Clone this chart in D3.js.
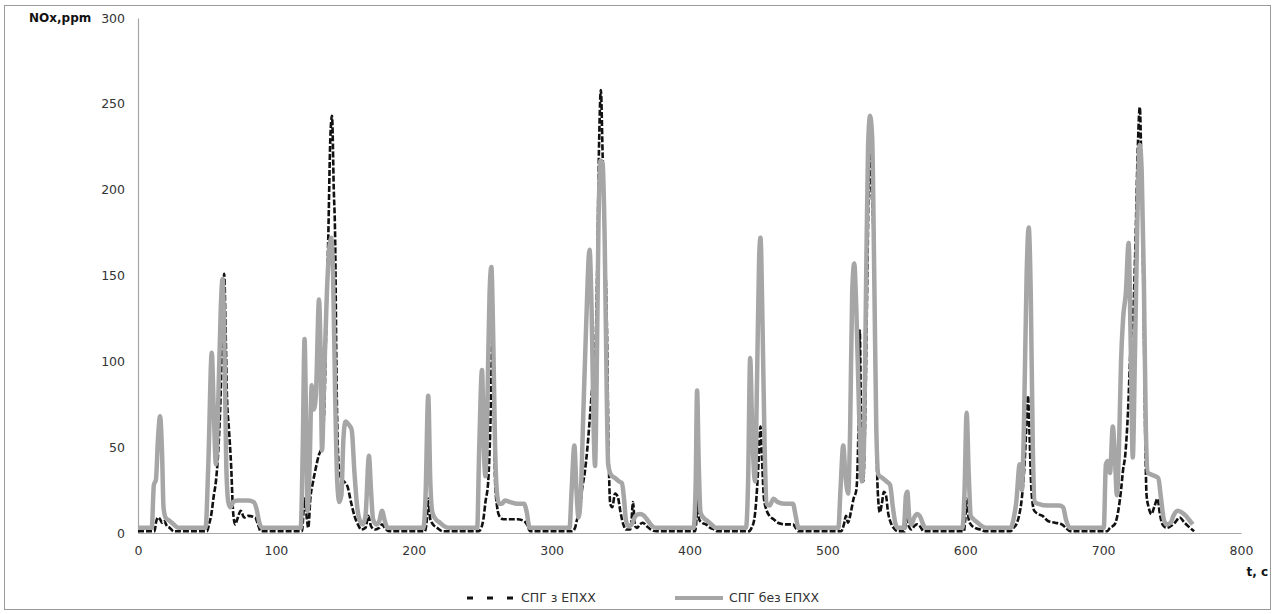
<!DOCTYPE html>
<html>
<head>
<meta charset="utf-8">
<script src="https://cdn.jsdelivr.net/npm/d3@7"></script>
<style>
    body { margin: 0; background: #fff; }
    text { font-family: "DejaVu Sans", sans-serif; }
</style>
</head>
<body>
<script>
"use strict"
/* time points and NOx values */
/* series 1: СПГ з ЕПХХ (black dashed) */
const tZ = [0, 12, 13, 14.5, 16, 17.5, 19, 21, 23, 26,
    50, 51.5, 53, 55, 56.5, 58, 59.5, 61, 62.5, 63.5, 64.5, 66, 67.5, 69, 70.5, 72, 74.5, 77, 80, 85, 87, 89,
    119, 120, 121, 122.5, 123.5, 125, 127, 129, 131, 133, 135, 136.5, 138, 139.5, 140.7, 142, 143, 144, 145.5, 147, 149.5, 152, 154.5, 157, 159.5, 162, 165, 167, 169, 172, 175, 177, 179, 182,
    208, 209.5, 210.5, 212, 214, 217, 221,
    247, 249, 250.5, 252, 254, 255.5, 257, 258, 259, 260.5, 262, 265, 270, 275, 280, 282, 284.5,
    315, 317, 318.5, 320, 322, 324, 326, 328, 330, 331.5, 333, 334.5, 335.7, 337, 338.5, 340, 341.5, 342.5, 344, 346, 348, 350, 352, 354, 357, 358, 359, 360.5, 362, 364, 366, 369, 372, 376,
    404, 405, 405.7, 407, 409, 412, 415, 418, 420,
    443, 445, 447, 448.5, 450, 451.5, 452.5, 454, 456, 458, 461, 464, 470, 475, 477, 479,
    510, 512, 513.5, 515, 517, 519, 521, 522.5, 523.5, 524.5, 526, 527.5, 529, 530.5, 532, 533.5, 535, 536.5, 538, 539.5, 541, 542.5, 544, 546, 548, 551, 556, 557, 558, 559, 561, 563, 565, 567, 570,
    599, 600, 601, 602.5, 604, 607, 611, 615,
    633, 635, 637, 639, 641, 643, 644.5, 645.5, 646.5, 648, 650, 653, 656, 660, 665, 670, 673, 676,
    703, 705, 707, 709, 711, 713, 714.5, 716, 718, 720, 722, 723.5, 725, 726.6, 728, 729.5, 730.5, 731.5, 733, 735, 737, 739.5, 741, 743, 746, 749, 752, 755.5, 759, 763, 766];
const nZ = [1, 1, 6, 9, 8, 6, 7, 4, 3, 1,
    1, 5, 10, 22, 30, 45, 70, 110, 151, 120, 80, 60, 40, 12, 5, 8, 13, 9, 10, 9, 5, 1,
    1, 12, 20, 8, 3, 20, 30, 38, 45, 50, 70, 120, 172, 230, 243, 200, 171, 90, 40, 32, 30, 27, 18, 10, 5, 2, 3, 10, 4, 2, 3, 5, 3, 1,
    1, 8, 20, 8, 5, 3, 1,
    1, 3, 8, 18, 30, 60, 115, 80, 30, 15, 10, 8, 8, 8, 7, 5, 1,
    1, 3, 8, 10, 25, 35, 50, 70, 90, 100, 150, 230, 258, 220, 170, 124, 40, 17, 15, 23, 21, 12, 5, 2, 2, 8, 18, 4, 3, 5, 6, 4, 2, 1,
    1, 8, 21, 8, 6, 5, 3, 2, 1,
    1, 3, 8, 20, 40, 62, 45, 20, 13, 10, 8, 6, 5, 5, 3, 1,
    1, 5, 10, 6, 12, 20, 25, 60, 118, 60, 30, 70, 150, 222, 200, 170, 80, 25, 12, 17, 24, 22, 12, 6, 3, 1, 1, 9, 15, 4, 2, 4, 5, 4, 1,
    1, 8, 20, 8, 5, 3, 2, 1,
    1, 3, 5, 10, 20, 40, 65, 80, 60, 25, 13, 11, 10, 7, 6, 5, 3, 1,
    1, 3, 4, 6, 13, 25, 37, 45, 70, 110, 130, 170, 220, 248, 200, 125, 60, 22, 15, 11, 15, 20, 12, 5, 3, 4, 6, 9, 6, 3, 1];

/* series 2: СПГ без ЕПХХ (grey solid) */
const tBez = [0, 10, 11.5, 13, 14.5, 16, 17.5, 18.5, 20, 23, 26, 29,
    49, 51, 53.5, 55, 56.5, 58, 60, 61.3, 62.5, 64, 65.5, 67, 69, 72, 80, 84, 86, 88, 90,
    118, 119.5, 120.8, 122, 123, 124.5, 126, 127.5, 129, 131.3, 132.3, 133.5, 135, 137, 139, 140.2, 141.5, 143, 144.5, 146, 147.5, 149, 150.5, 153, 155, 157, 159, 161, 163, 165, 167.5, 169, 170.5, 173, 175, 177, 179, 181,
    207, 208.5, 210.5, 212, 213.5, 216, 219, 222, 225,
    246, 247.5, 249.5, 251, 252, 253.5, 255, 256.3, 257.5, 259, 260.5, 262, 264, 266, 270, 275, 280, 282, 284,
    313, 314.5, 316.5, 318, 319.5, 321, 323, 325, 327.5, 329, 330.5, 331.5, 332.5, 334, 335.5, 337, 338.5, 340, 341, 343, 346, 349, 351, 352.5, 354, 356, 358, 361, 364, 367, 370, 373, 376,
    403, 404.5, 405.5, 406.7, 408, 410, 413, 416, 419,
    441, 442.5, 444, 445.5, 447.5, 449, 450.5, 451.5, 453, 454.5, 456, 458, 461, 464, 470, 475, 477, 479,
    508, 509.5, 511.5, 513, 515, 516.5, 518, 519.5, 521, 523, 525, 526.5, 528, 529.5, 531, 532.5, 534, 535.5, 537, 540, 543, 545.5, 547.5, 549.5, 551, 555.5, 557, 558, 559.5, 561, 563, 565, 567, 569, 571,
    598, 599.5, 601, 602.5, 604, 606, 609, 612, 615,
    633, 635, 637, 639.5, 641, 642.5, 644.5, 646, 647.5, 649, 650.5, 653, 660, 668, 671, 673, 676,
    700.5, 702, 703.5, 705, 707, 708.5, 710, 711.5, 713, 714.5, 716.5, 718.5, 720, 721.5, 723, 725, 726.6, 728, 729.5, 731, 732.5, 735, 738, 740, 742, 744, 746, 749, 751, 754, 757, 760, 762, 765];
const nBez = [3, 3, 28, 31, 55, 68, 45, 15, 9, 7, 5, 3,
    3, 40, 105, 70, 40, 70, 130, 148, 120, 40, 18, 15, 18, 19, 19, 18, 14, 6, 3,
    3, 50, 113, 60, 13, 40, 86, 72, 80, 136, 110, 48, 90, 140, 168, 172, 150, 80, 30, 18, 22, 55, 65, 63, 60, 35, 15, 7, 5, 10, 45, 25, 8, 5, 7, 13, 7, 3,
    3, 20, 80, 30, 12, 8, 6, 4, 3,
    3, 50, 95, 45, 33, 80, 140, 155, 120, 50, 22, 17, 17, 19, 18, 17, 17, 12, 3,
    3, 25, 51, 25, 9, 20, 70, 120, 165, 130, 60, 39, 80, 180, 217, 215, 170, 80, 40, 34, 32, 30, 29, 20, 7, 4, 5, 10, 11, 10, 7, 4, 3,
    3, 30, 83, 40, 12, 9, 7, 5, 3,
    3, 30, 102, 60, 30, 90, 160, 172, 120, 50, 17, 16, 20, 18, 17, 17, 10, 3,
    3, 25, 51, 35, 23, 60, 140, 157, 130, 70, 30, 50, 140, 225, 243, 230, 150, 60, 34, 32, 30, 28, 15, 5, 3, 3, 22, 24, 8, 5, 9, 11, 10, 6, 3,
    3, 25, 70, 35, 10, 8, 6, 4, 3,
    3, 8, 18, 40, 25, 60, 150, 178, 140, 50, 18, 17, 16, 16, 15, 8, 3,
    3, 40, 42, 35, 62, 45, 22, 50, 100, 125, 140, 169, 110, 44, 100, 190, 226, 210, 150, 60, 35, 34, 33, 32, 20, 8, 5, 6, 10, 13, 12, 10, 8, 5];

const xTicks = [0, 100, 200, 300, 400, 500, 600, 700, 800];
const yTicks = [0, 50, 100, 150, 200, 250, 300];
const seriesNames = ["СПГ з ЕПХХ", "СПГ без ЕПХХ"];

/* chart size */
const grafico = { larghezza: 1274, altezza: 614 };
const area = { sinistra: 138, destra: 1241, alto: 18, basso: 533 };

const svg = d3.select("body").append("svg")
    .attr("width", grafico.larghezza)
    .attr("height", grafico.altezza);

/* outer border of the chart */
svg.append("rect")
    .attr("x", 4.5).attr("y", 5.5)
    .attr("width", 1266).attr("height", 604)
    .attr("fill", "#fff")
    .attr("stroke", "#9a9a9a");

const scalaX = d3.scaleLinear().domain([0, 800]).range([area.sinistra, area.destra]);
const scalaY = d3.scaleLinear().domain([0, 300]).range([area.basso, area.alto]);

/* axes: no tick marks, grey line */
const gX = svg.append("g")
    .attr("transform", `translate(0,${area.basso})`)
    .call(d3.axisBottom(scalaX).tickValues(xTicks).tickSize(0).tickPadding(13).tickFormat(d3.format("d")));
const gY = svg.append("g")
    .attr("transform", `translate(${area.sinistra},0)`)
    .call(d3.axisLeft(scalaY).tickValues(yTicks).tickSize(0).tickPadding(13).tickFormat(d3.format("d")));
[gX, gY].forEach(function (g) {
    g.select(".domain").attr("stroke", "#a6a6a6").attr("stroke-width", 1.2);
    g.selectAll("text").attr("font-size", "12.5px").attr("fill", "#333")
        .attr("font-family", "\"DejaVu Sans\", sans-serif");
});

const linea = d3.line()
    .x(function (d) { return scalaX(d[0]) })
    .y(function (d) { return scalaY(d[1]) })
    .curve(d3.curveMonotoneX);

const datiZ = tZ.map(function (t, i) { return [t, nZ[i]] });
const datiBez = tBez.map(function (t, i) { return [t, nBez[i]] });

/* black dashed first, grey on top */
svg.append("path")
    .datum(datiZ)
    .attr("d", linea)
    .attr("fill", "none")
    .attr("stroke", "#111")
    .attr("stroke-width", 2.6)
    .attr("stroke-dasharray", "6,2");

svg.append("path")
    .datum(datiBez)
    .attr("d", linea)
    .attr("fill", "none")
    .attr("stroke", "#a6a6a6")
    .attr("stroke-width", 4.5)
    .attr("stroke-linejoin", "round");

/* axis titles */
svg.append("text")
    .attr("x", 29).attr("y", 22)
    .attr("font-size", "12px").attr("font-weight", "bold").attr("fill", "#111")
    .text("NOx,ppm");
svg.append("text")
    .attr("x", 1268).attr("y", 576)
    .attr("text-anchor", "end")
    .attr("font-size", "12px").attr("font-weight", "bold").attr("fill", "#111")
    .text("t, c");

/* legend */
const legenda = svg.append("g").attr("transform", "translate(0,598)");
legenda.append("line")
    .attr("x1", 467).attr("x2", 513).attr("y1", 0).attr("y2", 0)
    .attr("stroke", "#111").attr("stroke-width", 3)
    .attr("stroke-dasharray", "6,14");
legenda.append("text")
    .attr("x", 521).attr("y", 4)
    .attr("font-size", "12.5px").attr("fill", "#333")
    .text(seriesNames[0]);
legenda.append("line")
    .attr("x1", 675).attr("x2", 723).attr("y1", 0).attr("y2", 0)
    .attr("stroke", "#a6a6a6").attr("stroke-width", 4);
legenda.append("text")
    .attr("x", 729).attr("y", 4)
    .attr("font-size", "12.5px").attr("fill", "#333")
    .text(seriesNames[1]);
</script>
</body>
</html>
